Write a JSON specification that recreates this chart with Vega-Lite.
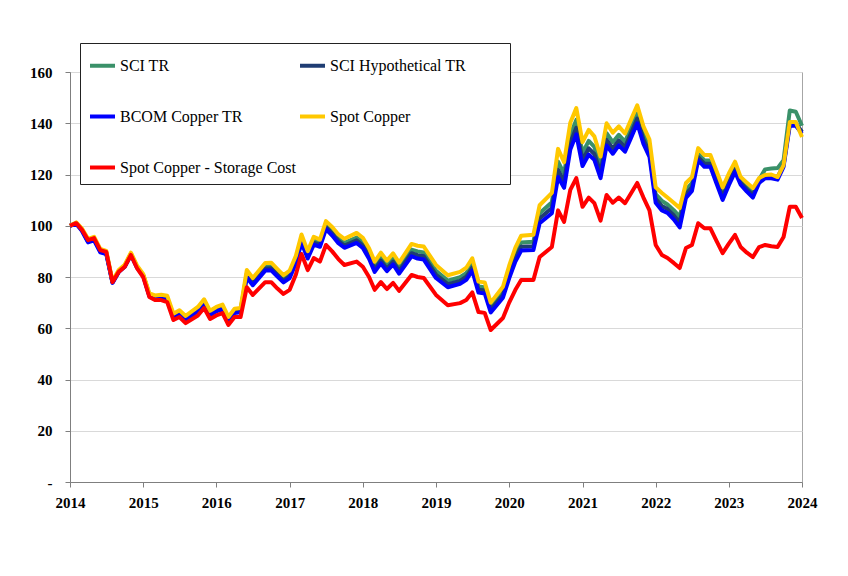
{
 "$schema": "https://vega.github.io/schema/vega-lite/v6.json",
 "width": 732, "height": 410,
 "autosize": {"type": "none"},
 "padding": {"left": 70, "top": 72, "right": 46, "bottom": 94},
 "background": "white",
 "config": {"view": {"stroke": "#a6a6a6"}, "font": "Liberation Serif"},
 "data": {"values": [
  {"date":"2014-01-01","sci":100,"hyp":100,"bcom":100,"spot":100,"stor":100},
  {"date":"2014-02-01","sci":101.1,"hyp":100.9,"bcom":100.8,"spot":101.3,"stor":101},
  {"date":"2014-03-01","sci":98.6,"hyp":98.3,"bcom":98.0,"spot":99.0,"stor":98.5},
  {"date":"2014-04-01","sci":94.3,"hyp":93.8,"bcom":93.5,"spot":94.9,"stor":94.4},
  {"date":"2014-05-01","sci":95.1,"hyp":94.7,"bcom":94.3,"spot":95.7,"stor":95.2},
  {"date":"2014-06-01","sci":90.4,"hyp":90.0,"bcom":89.6,"spot":91.0,"stor":90.5},
  {"date":"2014-07-01","sci":89.6,"hyp":89.2,"bcom":88.9,"spot":90.2,"stor":89.8},
  {"date":"2014-08-01","sci":78.1,"hyp":77.9,"bcom":77.7,"spot":78.5,"stor":78},
  {"date":"2014-09-01","sci":82.3,"hyp":82.1,"bcom":81.9,"spot":82.7,"stor":82},
  {"date":"2014-10-01","sci":84.4,"hyp":84.2,"bcom":84.0,"spot":84.8,"stor":84},
  {"date":"2014-11-01","sci":89.1,"hyp":88.8,"bcom":88.6,"spot":89.5,"stor":88.6},
  {"date":"2014-12-01","sci":84.1,"hyp":83.9,"bcom":83.7,"spot":84.5,"stor":83.5},
  {"date":"2015-01-01","sci":80.8,"hyp":80.6,"bcom":80.4,"spot":81.2,"stor":80},
  {"date":"2015-02-01","sci":73.1,"hyp":72.8,"bcom":72.5,"spot":73.6,"stor":72.2},
  {"date":"2015-03-01","sci":72.1,"hyp":71.7,"bcom":71.3,"spot":72.8,"stor":71},
  {"date":"2015-04-01","sci":72.4,"hyp":71.9,"bcom":71.5,"spot":73.1,"stor":71},
  {"date":"2015-05-01","sci":71.9,"hyp":71.4,"bcom":70.9,"spot":72.7,"stor":70.2},
  {"date":"2015-06-01","sci":65.0,"hyp":64.5,"bcom":64.1,"spot":65.7,"stor":63.2},
  {"date":"2015-07-01","sci":66.2,"hyp":65.7,"bcom":65.3,"spot":67.0,"stor":64.4},
  {"date":"2015-08-01","sci":64.1,"hyp":63.6,"bcom":63.2,"spot":64.8,"stor":62},
  {"date":"2015-10-01","sci":67.5,"hyp":67.0,"bcom":66.6,"spot":68.3,"stor":65},
  {"date":"2015-11-01","sci":70.5,"hyp":70.0,"bcom":69.5,"spot":71.3,"stor":67.9},
  {"date":"2015-12-01","sci":66.0,"hyp":65.5,"bcom":65.1,"spot":66.8,"stor":63.6},
  {"date":"2016-01-01","sci":67.5,"hyp":67.0,"bcom":66.6,"spot":68.3,"stor":65},
  {"date":"2016-02-01","sci":68.4,"hyp":67.9,"bcom":67.5,"spot":69.2,"stor":65.9},
  {"date":"2016-03-01","sci":63.7,"hyp":63.2,"bcom":62.8,"spot":64.4,"stor":61.3},
  {"date":"2016-04-01","sci":66.8,"hyp":66.3,"bcom":65.9,"spot":67.6,"stor":64.4},
  {"date":"2016-05-01","sci":67.1,"hyp":66.6,"bcom":66.2,"spot":67.9,"stor":64.4},
  {"date":"2016-06-01","sci":81.4,"hyp":80.5,"bcom":79.8,"spot":82.7,"stor":76},
  {"date":"2016-07-01","sci":78.3,"hyp":77.5,"bcom":76.8,"spot":79.6,"stor":73},
  {"date":"2016-09-01","sci":84.2,"hyp":83.3,"bcom":82.5,"spot":85.5,"stor":78},
  {"date":"2016-10-01","sci":84.3,"hyp":83.4,"bcom":82.6,"spot":85.6,"stor":78},
  {"date":"2016-11-01","sci":81.8,"hyp":80.9,"bcom":80.2,"spot":83.1,"stor":75.5},
  {"date":"2016-12-01","sci":79.4,"hyp":78.6,"bcom":77.9,"spot":80.7,"stor":73.4},
  {"date":"2017-01-01","sci":81.2,"hyp":80.3,"bcom":79.6,"spot":82.5,"stor":75},
  {"date":"2017-02-01","sci":87.0,"hyp":86.1,"bcom":85.4,"spot":88.3,"stor":81},
  {"date":"2017-03-01","sci":95.2,"hyp":94.2,"bcom":93.4,"spot":96.6,"stor":89},
  {"date":"2017-04-01","sci":88.8,"hyp":87.9,"bcom":87.2,"spot":90.1,"stor":82.7},
  {"date":"2017-05-01","sci":94.3,"hyp":93.4,"bcom":92.6,"spot":95.7,"stor":87.4},
  {"date":"2017-06-01","sci":93.3,"hyp":92.5,"bcom":91.8,"spot":94.6,"stor":86},
  {"date":"2017-07-01","sci":100.4,"hyp":99.5,"bcom":98.7,"spot":101.8,"stor":92.5},
  {"date":"2017-08-01","sci":98.0,"hyp":97.0,"bcom":96.2,"spot":99.5,"stor":90},
  {"date":"2017-09-01","sci":95.1,"hyp":94.1,"bcom":93.2,"spot":96.6,"stor":87},
  {"date":"2017-10-01","sci":93.3,"hyp":92.3,"bcom":91.4,"spot":94.9,"stor":84.7},
  {"date":"2017-12-01","sci":95.4,"hyp":94.3,"bcom":93.3,"spot":97.2,"stor":86},
  {"date":"2018-01-01","sci":93.5,"hyp":92.3,"bcom":91.3,"spot":95.3,"stor":84},
  {"date":"2018-02-01","sci":89.4,"hyp":88.1,"bcom":87.1,"spot":91.2,"stor":80},
  {"date":"2018-03-01","sci":84.2,"hyp":83.0,"bcom":82.0,"spot":86.0,"stor":75},
  {"date":"2018-04-01","sci":87.6,"hyp":86.4,"bcom":85.3,"spot":89.5,"stor":78},
  {"date":"2018-05-01","sci":84.6,"hyp":83.3,"bcom":82.3,"spot":86.4,"stor":75.3},
  {"date":"2018-06-01","sci":87.3,"hyp":86.0,"bcom":84.9,"spot":89.2,"stor":77.7},
  {"date":"2018-07-01","sci":83.7,"hyp":82.4,"bcom":81.3,"spot":85.6,"stor":74.6},
  {"date":"2018-09-01","sci":90.7,"hyp":89.3,"bcom":88.1,"spot":92.9,"stor":80.8},
  {"date":"2018-10-01","sci":90.0,"hyp":88.5,"bcom":87.2,"spot":92.2,"stor":80},
  {"date":"2018-11-01","sci":89.6,"hyp":88.1,"bcom":86.8,"spot":91.9,"stor":79.6},
  {"date":"2019-01-01","sci":82.4,"hyp":80.9,"bcom":79.6,"spot":84.7,"stor":73},
  {"date":"2019-03-01","sci":78.6,"hyp":77.2,"bcom":76.0,"spot":80.7,"stor":69},
  {"date":"2019-05-01","sci":79.9,"hyp":78.5,"bcom":77.3,"spot":82.0,"stor":69.8},
  {"date":"2019-06-01","sci":81.5,"hyp":80.1,"bcom":78.9,"spot":83.6,"stor":71},
  {"date":"2019-07-01","sci":85.1,"hyp":83.7,"bcom":82.5,"spot":87.3,"stor":74},
  {"date":"2019-08-01","sci":76.3,"hyp":75.0,"bcom":73.9,"spot":78.2,"stor":66.3},
  {"date":"2019-09-01","sci":76.0,"hyp":74.7,"bcom":73.6,"spot":77.9,"stor":66},
  {"date":"2019-10-01","sci":68.3,"hyp":67.2,"bcom":66.2,"spot":70.0,"stor":59.3},
  {"date":"2019-12-01","sci":74.3,"hyp":73.0,"bcom":71.9,"spot":76.2,"stor":64},
  {"date":"2020-01-01","sci":82.2,"hyp":80.7,"bcom":79.5,"spot":84.4,"stor":70},
  {"date":"2020-02-01","sci":89.0,"hyp":87.4,"bcom":86.0,"spot":91.5,"stor":75},
  {"date":"2020-03-01","sci":93.5,"hyp":91.8,"bcom":90.3,"spot":96.1,"stor":78.8},
  {"date":"2020-05-01","sci":93.8,"hyp":92.0,"bcom":90.5,"spot":96.5,"stor":78.8},
  {"date":"2020-06-01","sci":104.9,"hyp":102.8,"bcom":101.0,"spot":108.0,"stor":87.8},
  {"date":"2020-08-01","sci":109.2,"hyp":106.9,"bcom":104.9,"spot":112.8,"stor":91.7},
  {"date":"2020-09-01","sci":125.0,"hyp":121.8,"bcom":119.0,"spot":130.0,"stor":106},
  {"date":"2020-10-01","sci":120.3,"hyp":117.3,"bcom":114.8,"spot":124.8,"stor":101.5},
  {"date":"2020-11-01","sci":135.5,"hyp":132.3,"bcom":129.7,"spot":140.2,"stor":114},
  {"date":"2020-12-01","sci":141.3,"hyp":138.2,"bcom":135.7,"spot":145.9,"stor":118.6},
  {"date":"2021-01-01","sci":128.4,"hyp":125.6,"bcom":123.3,"spot":132.6,"stor":107.4},
  {"date":"2021-02-01","sci":133.1,"hyp":130.2,"bcom":127.8,"spot":137.4,"stor":111},
  {"date":"2021-03-01","sci":130.8,"hyp":128.0,"bcom":125.7,"spot":134.9,"stor":108.8},
  {"date":"2021-04-01","sci":123.2,"hyp":120.7,"bcom":118.6,"spot":127.0,"stor":102},
  {"date":"2021-05-01","sci":136.1,"hyp":133.5,"bcom":131.3,"spot":140.0,"stor":112},
  {"date":"2021-06-01","sci":132.6,"hyp":130.2,"bcom":128.1,"spot":136.3,"stor":109},
  {"date":"2021-07-01","sci":135.5,"hyp":133.3,"bcom":131.4,"spot":138.8,"stor":111},
  {"date":"2021-08-01","sci":132.8,"hyp":130.7,"bcom":128.9,"spot":136.0,"stor":108.8},
  {"date":"2021-09-01","sci":138.4,"hyp":136.3,"bcom":134.5,"spot":141.6,"stor":112.8},
  {"date":"2021-10-01","sci":143.9,"hyp":141.8,"bcom":140.0,"spot":147.0,"stor":116.7},
  {"date":"2021-11-01","sci":135.7,"hyp":133.6,"bcom":131.9,"spot":138.8,"stor":111},
  {"date":"2021-12-01","sci":130.6,"hyp":128.6,"bcom":126.9,"spot":133.6,"stor":106},
  {"date":"2022-01-01","sci":112.3,"hyp":110.5,"bcom":109.0,"spot":115.0,"stor":92.5},
  {"date":"2022-02-01","sci":109.7,"hyp":107.7,"bcom":106.0,"spot":112.8,"stor":88.6},
  {"date":"2022-03-01","sci":108.3,"hyp":106.5,"bcom":105.0,"spot":111.0,"stor":87.4},
  {"date":"2022-04-01","sci":106.1,"hyp":104.1,"bcom":102.5,"spot":109.0,"stor":85.5},
  {"date":"2022-05-01","sci":103.5,"hyp":101.3,"bcom":99.4,"spot":106.9,"stor":83.5},
  {"date":"2022-06-01","sci":114.1,"hyp":112.4,"bcom":110.9,"spot":116.7,"stor":91.3},
  {"date":"2022-07-01","sci":116.6,"hyp":115.0,"bcom":113.6,"spot":119.0,"stor":92.5},
  {"date":"2022-08-01","sci":128.2,"hyp":126.8,"bcom":125.6,"spot":130.3,"stor":101},
  {"date":"2022-09-01","sci":125.5,"hyp":124.2,"bcom":123.0,"spot":127.6,"stor":99},
  {"date":"2022-10-01","sci":125.5,"hyp":124.2,"bcom":123.0,"spot":127.6,"stor":99},
  {"date":"2022-11-01","sci":119.1,"hyp":117.6,"bcom":116.4,"spot":121.3,"stor":94},
  {"date":"2022-12-01","sci":112.8,"hyp":111.3,"bcom":110.1,"spot":115.0,"stor":89.3},
  {"date":"2023-01-01","sci":118.3,"hyp":117.0,"bcom":115.8,"spot":120.4,"stor":93},
  {"date":"2023-02-01","sci":123.2,"hyp":122.0,"bcom":121.0,"spot":125.0,"stor":96.4},
  {"date":"2023-03-01","sci":118.0,"hyp":116.8,"bcom":116.0,"spot":119.0,"stor":91.7},
  {"date":"2023-04-01","sci":115.5,"hyp":114.2,"bcom":113.3,"spot":116.8,"stor":89.5},
  {"date":"2023-05-01","sci":113.0,"hyp":112.0,"bcom":111.0,"spot":114.7,"stor":87.8},
  {"date":"2023-06-01","sci":118.0,"hyp":117.2,"bcom":116.7,"spot":118.6,"stor":91.7},
  {"date":"2023-07-01","sci":122.0,"hyp":119.3,"bcom":118.6,"spot":119.8,"stor":92.5},
  {"date":"2023-08-01","sci":122.3,"hyp":119.3,"bcom":118.5,"spot":120.0,"stor":92},
  {"date":"2023-09-01","sci":122.5,"hyp":119.0,"bcom":118.0,"spot":119.0,"stor":91.7},
  {"date":"2023-10-01","sci":125.6,"hyp":123.6,"bcom":123.0,"spot":123.7,"stor":95.6},
  {"date":"2023-11-01","sci":145.0,"hyp":140.0,"bcom":139.0,"spot":140.5,"stor":107.4},
  {"date":"2023-12-01","sci":144.5,"hyp":140.0,"bcom":139.0,"spot":140.5,"stor":107.4},
  {"date":"2024-01-01","sci":139.0,"hyp":136.6,"bcom":136.0,"spot":134.6,"stor":103}
 ]},
 "transform": [{"fold": ["sci", "hyp", "bcom", "spot", "stor"], "as": ["series", "value"]}],
 "mark": {"type": "line", "strokeWidth": 4, "strokeJoin": "round"},
 "encoding": {
  "x": {
   "field": "date", "type": "temporal",
   "scale": {"type": "utc", "domain": [{"year": 2014, "month": 1, "date": 1, "utc": true}, {"year": 2024, "month": 1, "date": 1, "utc": true}]},
   "axis": {
    "title": null, "grid": false, "format": "%Y",
    "tickCount": {"interval": "year", "step": 1},
    "labelFont": "Liberation Serif", "labelFontWeight": "bold", "labelFontSize": 15, "labelColor": "black",
    "labelOverlap": false, "labelFlush": false,
    "domainColor": "#7f7f7f", "tickColor": "#7f7f7f", "tickSize": 5, "labelPadding": 8
   }
  },
  "y": {
   "field": "value", "type": "quantitative",
   "scale": {"domain": [0, 160], "nice": false},
   "axis": {
    "title": null, "values": [0, 20, 40, 60, 80, 100, 120, 140, 160],
    "labelExpr": "datum.value == 0 ? '-' : datum.label",
    "grid": true, "gridColor": "#d9d9d9",
    "labelFont": "Liberation Serif", "labelFontWeight": "bold", "labelFontSize": 15, "labelColor": "black",
    "domainColor": "#7f7f7f", "tickColor": "#7f7f7f", "tickSize": 5, "labelPadding": 13
   }
  },
  "color": {
   "field": "series", "type": "nominal",
   "scale": {"domain": ["sci", "bcom", "stor", "hyp", "spot"], "range": ["#3a9169", "#0000ff", "#ff0000", "#1f3d73", "#ffc800"]},
   "legend": {
    "title": null, "orient": "none", "legendX": 10, "legendY": -29,
    "columns": 2, "gridAlign": "all", "columnPadding": -4, "rowPadding": 28,
    "padding": 8, "strokeColor": "#222222", "fillColor": "white",
    "symbolType": "stroke", "symbolSize": 625, "symbolStrokeWidth": 4,
    "labelFont": "Liberation Serif", "labelFontSize": 16, "labelColor": "black", "labelOffset": 3, "labelLimit": 400,
    "labelExpr": "{'sci': 'SCI TR', 'hyp': 'SCI Hypothetical TR\u00a0\u00a0\u00a0\u00a0\u00a0\u00a0\u00a0\u00a0\u00a0\u200b', 'bcom': 'BCOM Copper TR', 'spot': 'Spot Copper', 'stor': 'Spot Copper - Storage Cost'}[datum.label]"
   }
  }
 }
}
